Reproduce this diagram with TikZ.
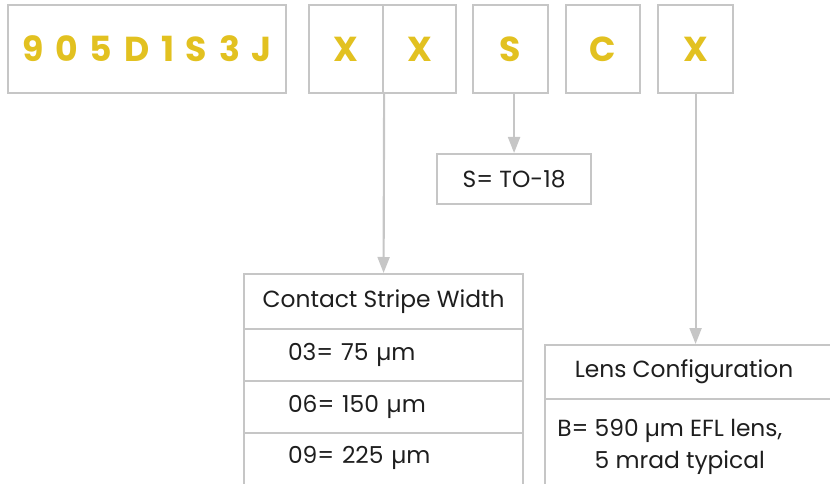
\documentclass[tikz,border=0pt]{standalone}
\usepackage{fontspec}
\setmainfont{Poppins}
\usetikzlibrary{arrows.meta}
\definecolor{gold}{HTML}{E2C120}
\definecolor{frame}{HTML}{C6C6C6}
\definecolor{ink}{HTML}{1E1E1E}
\begin{document}
\begin{tikzpicture}[x=0.75pt,y=-0.75pt,
  box/.style={draw=frame,line width=1.6pt,anchor=north west,inner sep=0pt,
    minimum height=66pt,font=\bfseries\fontsize{26}{26}\selectfont,text=gold},
  lbl/.style={draw=frame,line width=1.6pt,anchor=north west,inner sep=0pt,
    font=\fontsize{17.5}{24}\selectfont,text=ink},
  row/.style={lbl,inner xsep=33pt,text width=143.25pt,align=left,minimum height=39pt},
  conn/.style={draw=frame,line width=1.6pt,-{Triangle[width=9pt,length=12pt]}}]
\useasboundingbox (0,0) rectangle (830,484);
\clip (0,0) rectangle (830,484);
% part number boxes
\node[box,minimum width=208.5pt] (pn) at (7,4) {\addfontfeature{LetterSpace=34}905D1S3J};
\node[box,minimum width=55.5pt] (xa) at (308,4) {X};
\node[box,minimum width=54.75pt] (xb) at (382,4) {X};
\node[box,minimum width=56.25pt] (sb) at (472,4) {S};
\node[box,minimum width=55.5pt] (cb) at (565,4) {C};
\node[box,minimum width=56.25pt] (xc) at (657,4) {X};
% package
\node[lbl,minimum width=115.5pt,minimum height=37.5pt] (to) at (436,153) {S= TO-18};
% contact stripe width table
\node[lbl,minimum width=209.25pt,minimum height=41.25pt] (csw) at (243,273) {Contact Stripe Width};
\node[row] (r1) at (243,328) {03= 75 µm};
\node[row] (r2) at (243,380) {06= 150 µm};
\node[row,minimum height=50pt,text depth=18pt] (r3) at (243,432) {09= 225 µm};
% lens configuration
\node[lbl,minimum width=225pt,minimum height=40.5pt] (lens) at (544,344) {\hspace*{-16.5pt}Lens Configuration};
\node[lbl,minimum width=225pt,minimum height=75pt] (lensb) at (544,398) {};
\node[font=\fontsize{17.5}{24}\selectfont,text=ink,inner sep=0pt,anchor=west] (lenstxt) at (557,446)
  {\begin{tabular}{@{}l@{ }l@{}}B= & 590 µm EFL lens,\\ & 5 mrad typical\end{tabular}};
% connectors
\draw[conn] (xa.south east) -- (csw.north);
\draw[conn] (sb.south -| to.north) -- (to.north);
\draw[conn] (xc.south) -- (lens.north -| xc.south);
\end{tikzpicture}
\end{document}
